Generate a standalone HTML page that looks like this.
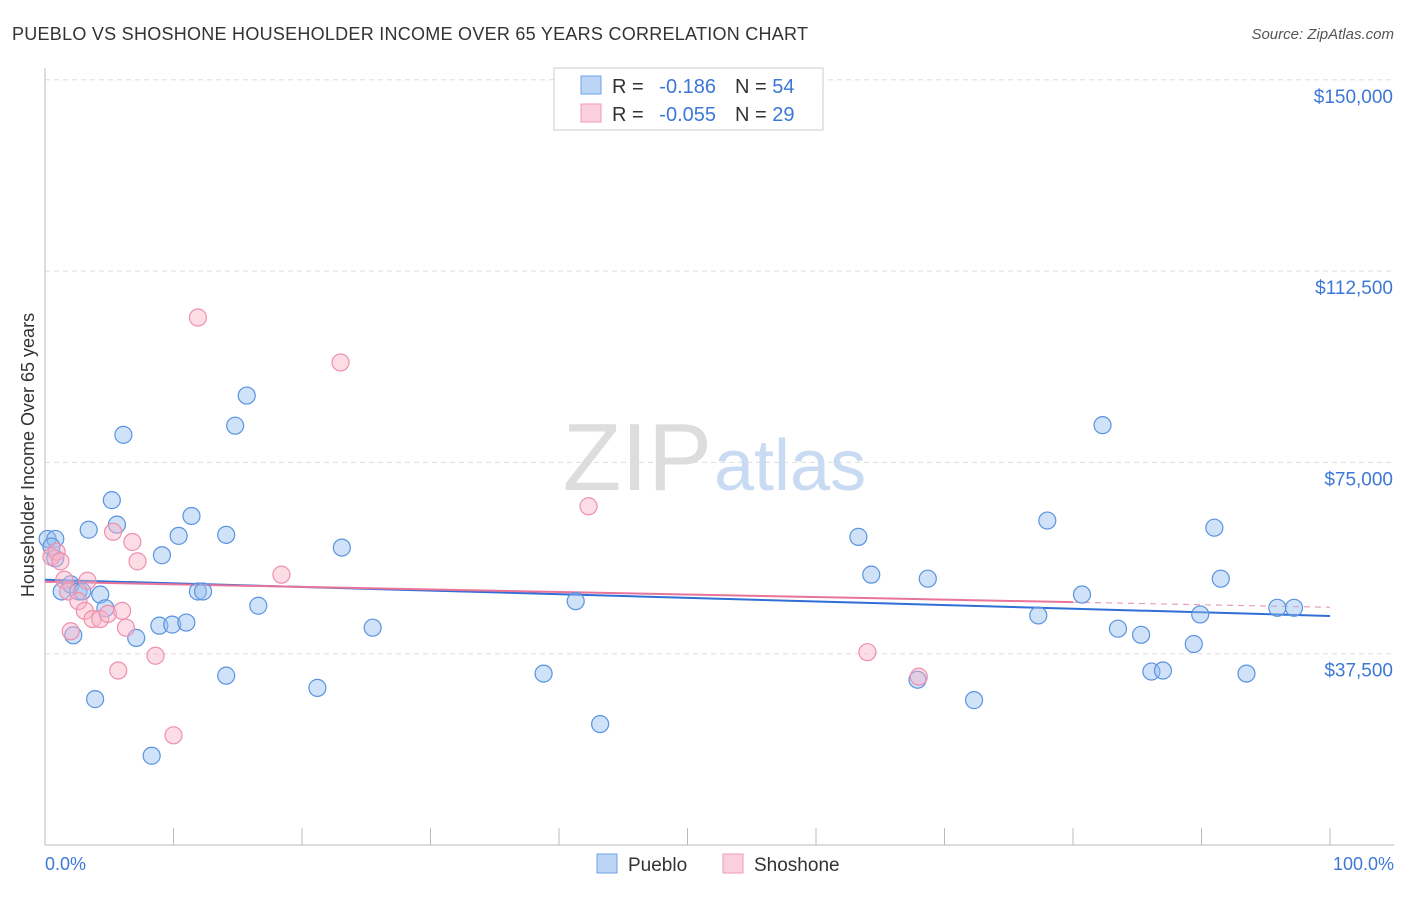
<!DOCTYPE html>
<html><head><meta charset="utf-8"><style>
body{margin:0;background:#fff;font-family:"Liberation Sans",sans-serif}
svg text{font-family:"Liberation Sans",sans-serif}
</style></head><body>
<svg width="1406" height="892">
<text x="12" y="40" font-size="18" fill="#333" textLength="796">PUEBLO VS SHOSHONE HOUSEHOLDER INCOME OVER 65 YEARS CORRELATION CHART</text>
<text x="1394" y="39" font-size="15" fill="#555" text-anchor="end" font-style="italic">Source: ZipAtlas.com</text>
<g id="grid"></g>
<text x="712" y="490" font-size="96" fill="#ddd" text-anchor="end" font-family="Liberation Serif">ZIP</text>
<text x="714" y="490" font-size="72" fill="#c9daf3">atlas</text>
<g id="lines"></g>
<g id="pts"></g>
<text transform="translate(34,455) rotate(-90)" font-size="18" fill="#333" text-anchor="middle">Householder Income Over 65 years</text>
<text x="45" y="870" font-size="18" fill="#3d78d8">0.0%</text>
<text x="1394" y="870" font-size="18" fill="#3d78d8" text-anchor="end">100.0%</text>
<g>
<rect x="554" y="68" width="269" height="62" fill="#fff" stroke="#ccc"/>
<rect x="581" y="76" width="20" height="18" fill="#bcd4f5" stroke="#6fa3e8"/>
<text x="612" y="93" font-size="20" fill="#333">R =</text>
<text x="716" y="93" font-size="20" fill="#3d78d8" text-anchor="end">-0.186</text>
<text x="735" y="93" font-size="20" fill="#333">N = <tspan fill="#3d78d8">54</tspan></text>
<rect x="581" y="104" width="20" height="18" fill="#fbd0dd" stroke="#f09ab5"/>
<text x="612" y="121" font-size="20" fill="#333">R =</text>
<text x="716" y="121" font-size="20" fill="#3d78d8" text-anchor="end">-0.055</text>
<text x="735" y="121" font-size="20" fill="#333">N = <tspan fill="#3d78d8">29</tspan></text>
</g>
<g>
<rect x="597" y="854" width="20" height="19" fill="#bcd4f5" stroke="#6fa3e8"/>
<text x="628" y="871" font-size="19" fill="#333">Pueblo</text>
<rect x="723" y="854" width="20" height="19" fill="#fbd0dd" stroke="#f09ab5"/>
<text x="754" y="871" font-size="19" fill="#333">Shoshone</text>
</g>
</svg>
<script>
const yTicks=[150000,112500,75000,37500];
const yTickLabels=["$150,000","$112,500","$75,000","$37,500"];
const puebloX=[0.2,0.8,0.5,0.8,1.3,2.0,2.2,2.6,2.9,3.4,3.9,4.3,4.7,5.2,5.6,6.1,7.1,8.3,8.9,9.1,9.9,10.4,11.0,11.4,11.9,12.3,14.1,14.1,14.8,15.7,16.6,21.2,23.1,25.5,38.8,41.3,43.2,63.3,64.3,67.9,68.7,72.3,77.3,78.0,80.7,82.3,83.5,85.3,86.1,87.0,89.4,89.9,91.0,91.5,93.5,95.9,97.2];
const puebloY=[60000,60000,58500,56200,49700,51100,41100,49700,49700,61800,28600,49100,46400,67600,62800,80400,40600,17500,43000,56800,43200,60600,43600,64500,49700,49700,60800,33200,82200,88100,46900,30800,58300,42600,33600,47800,23700,60400,53000,32400,52200,28400,45000,63600,49100,82300,42400,41200,34000,34200,39400,45200,62200,52200,33600,46500,46500];
const shoshoneX=[0.5,0.9,1.2,1.5,1.8,2.0,2.6,3.1,3.3,3.7,4.3,4.9,5.3,5.7,6.0,6.3,6.8,7.2,8.6,10.0,11.9,18.4,23.0,42.3,64.0,68.0];
const shoshoneY=[56500,57500,55600,52000,49700,41900,47800,45900,51800,44300,44300,45300,61400,34200,45900,42600,59400,55600,37100,21500,103400,53000,94600,66400,37800,33000];
const puebloTrend=[52000,44900];
const shoshoneTrend=[51600,46600];
const X0=45,X1=1330,Y0=845,PX=191.3/37500;
const sx=v=>X0+(X1-X0)*v/100, sy=v=>Y0-v*PX;
const NS="http://www.w3.org/2000/svg";
function mk(t,a,p){const e=document.createElementNS(NS,t);for(const k in a)e.setAttribute(k,a[k]);p.appendChild(e);return e;}
const g=document.getElementById('grid');
yTicks.forEach((t,i)=>{
 const l=mk('line',{x1:45,x2:1394,y1:sy(t),y2:sy(t),stroke:'#ddd','stroke-dasharray':'5,4'},g);
 
 
 const tx=mk('text',{x:1393,y:sy(t)+23,'font-size':19,fill:'#3d78d8','text-anchor':'end'},g);
 tx.textContent=yTickLabels[i];
 
 
});
mk('line',{x1:45,x2:45,y1:68,y2:845,stroke:'#bbb'},g);
mk('line',{x1:45,x2:1394,y1:845,y2:845,stroke:'#bbb'},g);
for(let i=0;i<=10;i++){const t=mk('line',{x1:sx(i*10),x2:sx(i*10),y1:828,y2:845,stroke:'#bbb'},g);
 
 }
const L=document.getElementById('lines');
const bl=mk('line',{x1:sx(0),x2:sx(100),y1:sy(puebloTrend[0]),y2:sy(puebloTrend[1]),stroke:'#2f6fd6','stroke-width':2},L);


const ym=shoshoneTrend[0]+(shoshoneTrend[1]-shoshoneTrend[0])*0.8;
const pl=mk('line',{x1:sx(0),x2:sx(80),y1:sy(shoshoneTrend[0]),y2:sy(ym),stroke:'#e8749a','stroke-width':2},L);


const pd=mk('line',{x1:sx(80),x2:sx(100),y1:sy(ym),y2:sy(shoshoneTrend[1]),stroke:'#e8a0b8','stroke-width':1.2,'stroke-dasharray':'6,5'},L);


const P=document.getElementById('pts');
puebloX.forEach((x,i)=>{const c=mk('circle',{cx:sx(x),cy:sy(puebloY[i]),r:8.5,fill:'rgba(150,190,240,0.45)',stroke:'#5b93e0','stroke-width':1.2},P);
 
 });
shoshoneX.forEach((x,i)=>{const c=mk('circle',{cx:sx(x),cy:sy(shoshoneY[i]),r:8.5,fill:'rgba(248,180,200,0.45)',stroke:'#ee8fae','stroke-width':1.2},P);
 
 });
</script>
</body></html>
